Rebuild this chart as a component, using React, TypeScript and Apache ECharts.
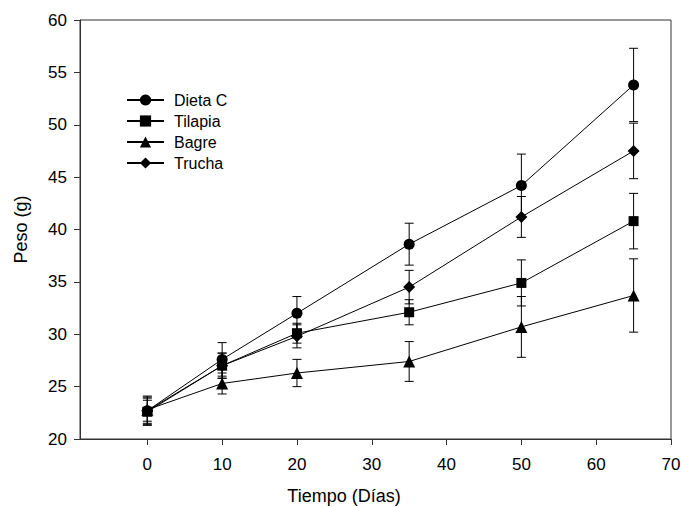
import React, { useEffect, useRef } from "react";
import * as echarts from "echarts";

const days = [0, 10, 20, 35, 50, 65];
const xTicks = [0, 10, 20, 30, 40, 50, 60, 70];

const dietaC = [22.7, 27.6, 32.0, 38.6, 44.2, 53.8];
const dietaCErr = [1.3, 1.6, 1.6, 2.0, 3.0, 3.5];
const tilapia = [22.6, 27.0, 30.1, 32.1, 34.9, 40.8];
const tilapiaErr = [1.1, 1.2, 0.95, 1.2, 2.2, 2.65];
const bagre = [22.8, 25.3, 26.3, 27.4, 30.7, 33.7];
const bagreErr = [1.1, 1.0, 1.3, 1.9, 2.9, 3.5];
const trucha = [22.7, 27.0, 29.8, 34.5, 41.2, 47.5];
const truchaErr = [1.4, 1.2, 1.1, 1.6, 1.95, 2.65];

const seriesDefs = [
  { name: "Dieta C", values: dietaC, errs: dietaCErr, symbol: "circle", size: 11 },
  { name: "Tilapia", values: tilapia, errs: tilapiaErr, symbol: "rect", size: 10 },
  { name: "Bagre", values: bagre, errs: bagreErr, symbol: "triangle", size: 12 },
  { name: "Trucha", values: trucha, errs: truchaErr, symbol: "diamond", size: 12 },
];

const FONT = "Liberation Sans, Arial, sans-serif";

export default function App() {
  const ref = useRef<HTMLDivElement>(null);
  useEffect(() => {
    if (!ref.current) return;
    const chart = echarts.init(ref.current, undefined, { renderer: "svg" });
    const errSeries = seriesDefs.map((s) => ({
      type: "custom",
      name: s.name + " error",
      z: 1,
      data: days.map((d, i) => [d, s.values[i], s.errs[i]]),
      encode: { x: 0, y: 1 },
      renderItem: (params: any, api: any) => {
        const x = api.value(0);
        const y = api.value(1);
        const e = api.value(2);
        const top = api.coord([x, y + e]);
        const bot = api.coord([x, y - e]);
        const w = 4.5;
        const style = { stroke: "#000", lineWidth: 1 };
        return {
          type: "group",
          children: [
            { type: "line", shape: { x1: top[0], y1: top[1], x2: bot[0], y2: bot[1] }, style },
            { type: "line", shape: { x1: top[0] - w, y1: top[1], x2: top[0] + w, y2: top[1] }, style },
            { type: "line", shape: { x1: bot[0] - w, y1: bot[1], x2: bot[0] + w, y2: bot[1] }, style },
          ],
        };
      },
    }));
    const lineSeries = seriesDefs.map((s) => ({
      type: "line",
      name: s.name,
      z: 3,
      data: days.map((d, i) => [d, s.values[i]]),
      symbol: s.symbol,
      symbolSize: s.size,
      showAllSymbol: true,
      lineStyle: { color: "#000", width: 1 },
      itemStyle: { color: "#000" },
    }));
    chart.setOption({
      animation: false,
      textStyle: { fontFamily: FONT },
      grid: {
        left: 80,
        right: 10,
        top: 20,
        bottom: 68,
        show: true,
        borderColor: "#333",
        borderWidth: 1,
        containLabel: false,
        outerBoundsMode: "none",
      },
      legend: {
        data: seriesDefs.map((s) => s.name),
        orient: "vertical",
        left: 126,
        top: 92,
        padding: 0,
        itemWidth: 37,
        itemHeight: 14,
        itemGap: 5,
        textStyle: { fontSize: 16, color: "#000", fontFamily: FONT, padding: [0, 0, 0, 5] },
        selectedMode: false,
      },
      xAxis: {
        type: "value",
        min: -9,
        max: 70,
        name: "Tiempo (Días)",
        nameLocation: "middle",
        nameGap: 48,
        nameTextStyle: { fontSize: 18, color: "#000", fontFamily: FONT, padding: [0, 63, 0, 0] },
        axisLine: { show: true, onZero: false, lineStyle: { color: "#333", width: 1 } },
        axisTick: { show: true, length: 6, customValues: xTicks, lineStyle: { color: "#333" } },
        axisLabel: { customValues: xTicks, fontSize: 17, color: "#000", margin: 17, fontFamily: FONT },
        splitLine: { show: false },
      },
      yAxis: {
        type: "value",
        min: 20,
        max: 60,
        interval: 5,
        name: "Peso (g)",
        nameLocation: "middle",
        nameGap: 50,
        nameTextStyle: { fontSize: 18, color: "#000", fontFamily: FONT },
        axisLine: { show: true, onZero: false, lineStyle: { color: "#333", width: 1 } },
        axisTick: { show: true, length: 6, lineStyle: { color: "#333" } },
        axisLabel: { fontSize: 17, color: "#000", margin: 13, fontFamily: FONT },
        splitLine: { show: false },
      },
      series: [...errSeries, ...lineSeries],
    });
    return () => chart.dispose();
  }, []);
  return (
    <div
      ref={ref}
      style={{ position: "absolute", left: 0, top: 0, width: 681, height: 507 }}
    />
  );
}
